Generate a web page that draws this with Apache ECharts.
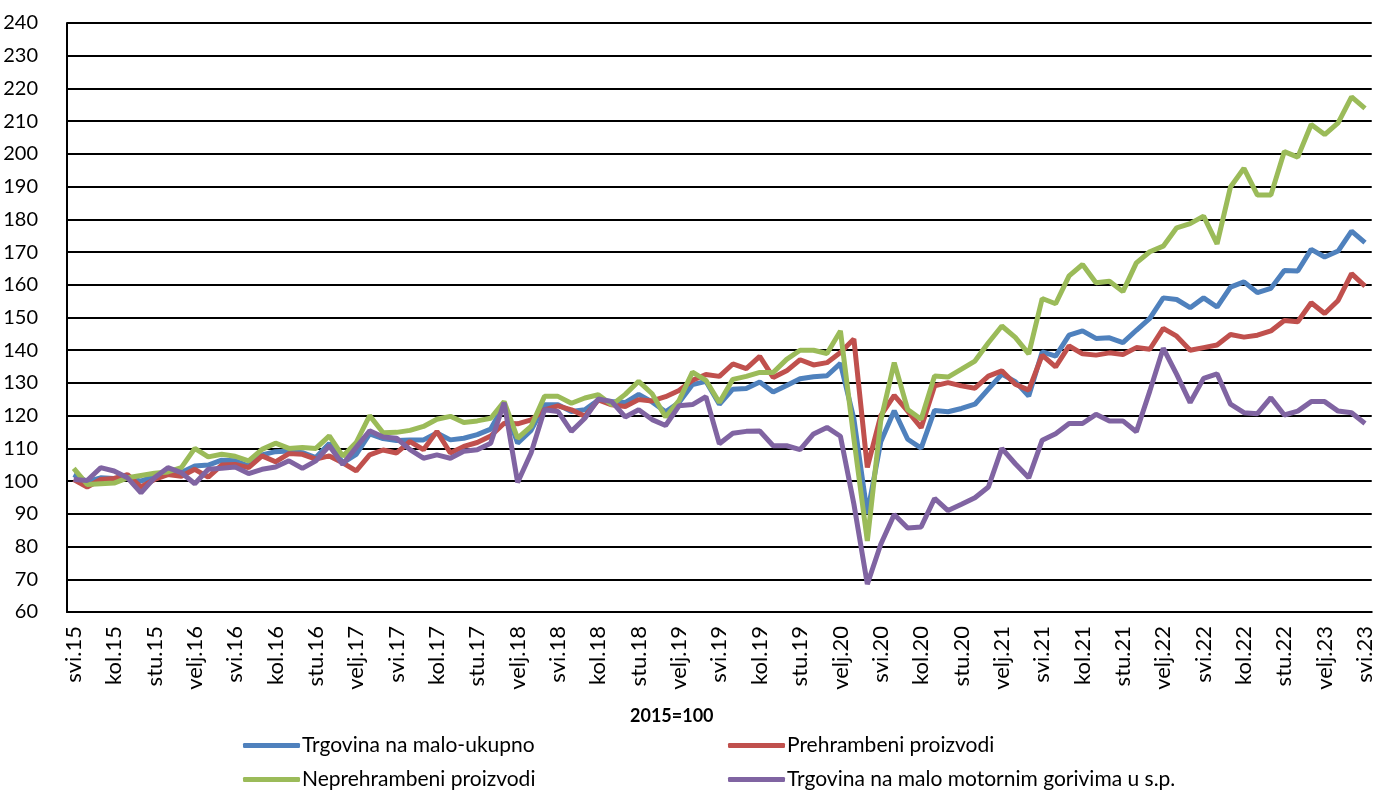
<!DOCTYPE html>
<html>
<head>
<meta charset="utf-8">
<script src="https://cdn.jsdelivr.net/npm/echarts@6/dist/echarts.min.js"></script>
<style>
    html, body { margin: 0; padding: 0; background: #fff; }
    #chart { width: 1376px; height: 791px; }
</style>
</head>
<body>
<div id="chart"></div>
<script>
// mjesečne oznake, svi.15 - svi.23
var monthNames = ['sij', 'velj', 'ožu', 'tra', 'svi', 'lip', 'srp', 'kol', 'ruj', 'lis', 'stu', 'pro'];
var categories = [];
for (var k = 0; k < 97; k++) {
    var m = (4 + k) % 12;
    var y = 15 + Math.floor((4 + k) / 12);
    categories.push(monthNames[m] + '.' + y);
}

var seriesNames = ['Trgovina na malo-ukupno', 'Prehrambeni proizvodi', 'Neprehrambeni proizvodi', 'Trgovina na malo motornim gorivima u s.p.'];

var ukupno = [102, 99.8, 101, 100.8, 101, 100, 101.5, 102.6, 102.6, 104.6, 104.9, 106.4,
    106.2, 104.6, 108, 109, 109.2, 108.7, 107.2, 111.5, 105.6, 108.2, 114.4, 113,
    112.4, 112.6, 112.6, 114.7, 112.6, 113.1, 114.2, 115.9, 123.3, 111.6, 115.5, 123.3,
    123.3, 121.3, 121.8, 124.8, 124.3, 124, 126.5, 124.2, 121.2, 124, 129.5, 130.5,
    123.5, 128.1, 128.3, 130.3, 127.2, 129.2, 131.3, 131.9, 132.2, 136, 119, 90,
    112, 121.5, 112.8, 110.1, 121.6, 121.2, 122.2, 123.5, 128.1, 132.7, 130.4, 126,
    139.5, 138.2, 144.6, 145.9, 143.6, 143.8, 142.3, 146.1, 149.7, 156, 155.5, 153,
    156, 153.2, 159.3, 160.9, 157.6, 158.9, 164.4, 164.2, 170.8, 168.5, 170.3, 176.4,
    172.9];

var prehrambeni = [100.5, 98.2, 100.5, 100.8, 102, 98.2, 100.5, 102, 101.5, 103.6, 101.2, 104.9,
    105.1, 104.1, 107.7, 105.9, 108.4, 108.2, 106.7, 107.7, 105.6, 103.1, 108, 109.5,
    108.6, 112.1, 109.6, 115.2, 108.6, 110.6, 111.8, 113.8, 117.7, 117.5, 118.7, 121.8,
    123, 121.8, 119.8, 124.8, 123.3, 122.8, 124.9, 124.5, 125.8, 127.7, 130.8, 132.6,
    132, 135.8, 134.4, 138.1, 131.7, 133.7, 137.1, 135.5, 136.2, 139.3, 143.4, 104.2,
    120, 126.2, 121.4, 116.3, 129.1, 130.1, 129.1, 128.4, 132.1, 133.7, 129.6, 127.8,
    138.5, 134.9, 141.3, 138.9, 138.5, 139.2, 138.7, 140.8, 140.3, 146.7, 144.3, 140,
    140.8, 141.6, 144.8, 144, 144.6, 145.9, 149.1, 148.7, 154.5, 151.2, 155.2, 163.4,
    159.6];

var neprehrambeni = [103.9, 99, 99.2, 99.4, 101, 101.7, 102.4, 102.8, 104.1, 110, 107.4, 108.2,
    107.6, 106.2, 109.7, 111.6, 110, 110.3, 110, 113.8, 107.6, 111.8, 120, 114.8,
    114.9, 115.5, 116.7, 118.9, 119.8, 117.9, 118.4, 119.2, 124.3, 113.1, 116.7, 125.9,
    125.9, 123.8, 125.4, 126.4, 123.3, 126.5, 130.5, 126.7, 119.6, 124.6, 133.3, 130.8,
    124, 131.1, 132, 133.2, 133.2, 137.2, 140, 140, 139, 145.9, 113, 81.7,
    118.5, 136.2, 121.9, 118.9, 132.1, 131.8, 134.2, 136.7, 142.3, 147.4, 143.9, 138.9,
    155.8, 154.2, 162.7, 166.2, 160.6, 161.1, 157.9, 166.7, 170.1, 171.8, 177.4, 178.7,
    181, 172.5, 189.9, 195.6, 187.4, 187.4, 200.7, 199, 209, 205.9, 209.5, 217.4,
    213.9];

var gorivo = [100.5, 100.2, 104.1, 103.1, 101, 96.4, 101, 104.1, 102.6, 99.2, 103.6, 103.9,
    104.3, 102.3, 103.6, 104.3, 106.2, 103.9, 106.2, 110.8, 105.1, 110.3, 115.4, 113.5,
    113.1, 109.6, 107, 108, 107, 109.1, 109.6, 111.6, 124, 99.6, 108.6, 121.8,
    121.3, 115.2, 119.2, 125.1, 124.3, 119.6, 121.8, 118.8, 117, 123, 123.4, 125.8,
    111.4, 114.6, 115.2, 115.3, 110.8, 110.8, 109.6, 114.4, 116.4, 113.7, 93, 68.5,
    80.7, 89.8, 85.7, 86, 94.7, 91, 92.9, 94.9, 98.2, 110, 105.3, 101,
    112.5, 114.5, 117.6, 117.6, 120.4, 118.4, 118.4, 115.1, 127.5, 140.6, 132.6, 124,
    131.4, 132.8, 123.5, 120.9, 120.6, 125.5, 120.2, 121.4, 124.3, 124.3, 121.4, 120.9,
    117.6];

var colors = ['#4F81BD', '#C0504D', '#9BBB59', '#8064A2'];
var fontFam = 'Lato, "Noto Sans", sans-serif';

var chart = echarts.init(document.getElementById('chart'));

function lineSeries(name, data, color) {
    return {
        name: name,
        type: 'line',
        data: data,
        symbol: 'none',
        smooth: false,
        lineStyle: { width: 5, color: color },
        itemStyle: { color: color },
        emphasis: { disabled: true }
    };
}

// jedna legenda po stavci, da bi stupci bili poravnati kao u Excelu
function legendItem(name, left, top) {
    return {
        data: [name],
        left: left,
        top: top,
        icon: 'roundRect',
        itemWidth: 57,
        itemHeight: 5,
        padding: 0,
        textStyle: {
            fontFamily: fontFam,
            fontSize: 21,
            color: '#000',
            padding: [0, 0, 0, -3]
        }
    };
}

var option = {
    animation: false,
    color: colors,
    title: {
        text: '2015=100',
        left: 630,
        top: 707,
        padding: 0,
        textStyle: {
            fontFamily: fontFam,
            fontSize: 18,
            fontWeight: 'bold',
            color: '#000'
        }
    },
    grid: {
        left: 67,
        right: 2,
        top: 23,
        bottom: 179
    },
    legend: [
        legendItem(seriesNames[0], 243, 735),
        legendItem(seriesNames[1], 728, 735),
        legendItem(seriesNames[2], 243, 769),
        legendItem(seriesNames[3], 728, 769)
    ],
    xAxis: {
        type: 'category',
        data: categories,
        boundaryGap: true,
        axisLine: { show: true, lineStyle: { color: '#000', width: 2 } },
        axisTick: { show: false },
        axisLabel: {
            interval: 2,
            rotate: 90,
            margin: 14,
            fontFamily: fontFam,
            fontSize: 22,
            color: '#000'
        }
    },
    yAxis: {
        type: 'value',
        min: 60,
        max: 240,
        interval: 10,
        axisLine: { show: true, lineStyle: { color: '#000', width: 2 } },
        axisTick: { show: false },
        axisLabel: {
            margin: 29,
            fontFamily: fontFam,
            fontSize: 20,
            color: '#000'
        },
        splitLine: { lineStyle: { color: '#000', width: 2 } }
    },
    series: [
        lineSeries(seriesNames[0], ukupno, colors[0]),
        lineSeries(seriesNames[1], prehrambeni, colors[1]),
        lineSeries(seriesNames[2], neprehrambeni, colors[2]),
        lineSeries(seriesNames[3], gorivo, colors[3])
    ]
};

chart.setOption(option);
</script>
</body>
</html>
